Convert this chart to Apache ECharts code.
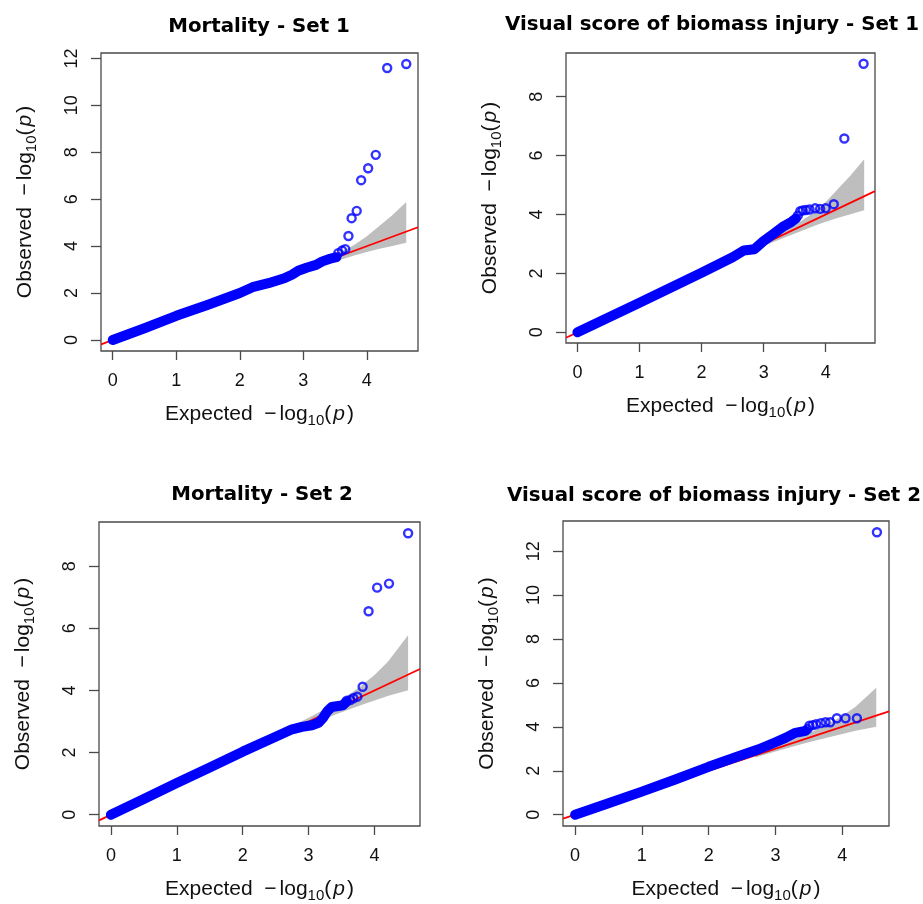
<!DOCTYPE html>
<html>
<head>
<meta charset="utf-8">
<title>QQ plots</title>
<script src="https://cdn.jsdelivr.net/npm/echarts@6/dist/echarts.min.js"></script>
<style>
	html, body { margin: 0; padding: 0; background: #fff; }
	#chart { width: 923px; height: 904px; }
</style>
</head>
<body>
<div id="chart"></div>
<script>
// panel titles
var titles = [
	'Mortality - Set 1',
	'Visual score of biomass injury - Set 1',
	'Mortality - Set 2',
	'Visual score of biomass injury - Set 2'
];

// tick labels
var xTicks = [0, 1, 2, 3, 4];
var yTicksMort1 = [0, 2, 4, 6, 8, 10, 12];
var yTicksVis1 = [0, 2, 4, 6, 8];
var yTicksMort2 = [0, 2, 4, 6, 8];
var yTicksVis2 = [0, 2, 4, 6, 8, 10, 12];

// dense part of each qq cloud [expected, observed]
var mort1Band = [[0, 0], [0.5, 0.5], [1, 1.03], [1.5, 1.5], [2, 2.0], [2.2, 2.25], [2.45, 2.42], [2.7, 2.63], [2.82, 2.78], [2.92, 2.95], [3.05, 3.08], [3.2, 3.2], [3.3, 3.35], [3.42, 3.46], [3.52, 3.53]];
var vis1Band = [[0, 0], [0.5, 0.5], [1, 1.0], [1.5, 1.51], [2, 2.02], [2.5, 2.55], [2.68, 2.78], [2.85, 2.82], [3.0, 3.1], [3.15, 3.33], [3.3, 3.57], [3.45, 3.75], [3.52, 3.86]];
var mort2Band = [[0, 0], [0.5, 0.51], [1, 1.02], [1.5, 1.52], [2, 2.03], [2.5, 2.51], [2.75, 2.75], [2.9, 2.83], [3.05, 2.88], [3.15, 2.96], [3.22, 3.12], [3.28, 3.32], [3.35, 3.47], [3.45, 3.5], [3.52, 3.52], [3.57, 3.63]];
var vis2Band = [[0, 0], [0.5, 0.52], [1, 1.05], [1.5, 1.6], [2, 2.18], [2.5, 2.72], [2.75, 2.98], [3.0, 3.3], [3.15, 3.5], [3.3, 3.73], [3.45, 3.82]];

// the separate points at the top end
var mort1Tail = [[3.55, 3.7], [3.61, 3.81], [3.66, 3.87], [3.71, 4.43], [3.76, 5.19], [3.84, 5.5], [3.91, 6.81], [4.02, 7.32], [4.14, 7.89], [4.32, 11.59], [4.62, 11.76]];
var vis1Tail = [[3.55, 3.96], [3.59, 4.11], [3.63, 4.14], [3.68, 4.15], [3.74, 4.17], [3.83, 4.21], [3.91, 4.19], [4.0, 4.21], [4.13, 4.35], [4.3, 6.58], [4.61, 9.12]];
var mort2Tail = [[3.58, 3.67], [3.63, 3.69], [3.68, 3.75], [3.74, 3.8], [3.82, 4.12], [3.91, 6.55], [4.04, 7.31], [4.22, 7.44], [4.51, 9.06]];
var vis2Tail = [[3.48, 3.9], [3.51, 4.05], [3.56, 4.08], [3.61, 4.12], [3.68, 4.17], [3.75, 4.21], [3.82, 4.21], [3.92, 4.39], [4.05, 4.39], [4.22, 4.39], [4.52, 12.86]];

// grey confidence band
var ci1X = [2.8, 3.0, 3.2, 3.4, 3.6, 3.8, 4.0, 4.2, 4.4, 4.62];
var ci1Upper = [2.86, 3.08, 3.3, 3.53, 3.77, 4.05, 4.42, 4.87, 5.32, 5.88];
var ci1Lower = [2.74, 2.93, 3.1, 3.27, 3.43, 3.6, 3.75, 3.89, 4.01, 4.14];
var ci2X = [2.7, 3.0, 3.2, 3.4, 3.6, 3.8, 4.0, 4.2, 4.51];
var ci2Upper = [2.8, 3.12, 3.35, 3.58, 3.85, 4.15, 4.5, 4.92, 5.78];
var ci2Lower = [2.6, 2.88, 3.05, 3.22, 3.38, 3.53, 3.68, 3.82, 4.01];

var panels = [
	{ band: mort1Band, tail: mort1Tail, ciX: ci1X, ciUp: ci1Upper, ciLo: ci1Lower, yTicks: yTicksMort1,
		grid: { left: 101, top: 53, width: 317, height: 298 }, title: [259, 27] },
	{ band: vis1Band, tail: vis1Tail, ciX: ci1X, ciUp: ci1Upper, ciLo: ci1Lower, yTicks: yTicksVis1,
		grid: { left: 566, top: 53, width: 309, height: 290 }, title: [712, 25] },
	{ band: mort2Band, tail: mort2Tail, ciX: ci2X, ciUp: ci2Upper, ciLo: ci2Lower, yTicks: yTicksMort2,
		grid: { left: 99, top: 522, width: 321, height: 304 }, title: [262, 495] },
	{ band: vis2Band, tail: vis2Tail, ciX: ci2X, ciUp: ci2Upper, ciLo: ci2Lower, yTicks: yTicksVis2,
		grid: { left: 563, top: 521, width: 326, height: 306 }, title: [714, 496] }
];

// like R: data range plus 4% each side
function rRange(pts, k) {
	var lo = Infinity, hi = -Infinity;
	pts.forEach(function (p) {
		lo = Math.min(lo, p[k]);
		hi = Math.max(hi, p[k]);
	});
	var d = (hi - lo) * 0.04;
	return [lo - d, hi + d];
}

var mathRich = {
	n: { fontSize: 21, fontFamily: 'Liberation Sans', color: '#111', lineHeight: 28 },
	m: { fontSize: 21, fontFamily: 'Liberation Sans', color: '#111', lineHeight: 28, padding: [0, 3, 0, 0] },
	s: { fontSize: 15, fontFamily: 'Liberation Sans', color: '#111', lineHeight: 17, verticalAlign: 'bottom' },
	i: { fontSize: 21, fontFamily: 'Liberation Sans', fontStyle: 'italic', color: '#111', lineHeight: 28, padding: [0, 2, 0, 2] }
};
function mathName(word) {
	return '{n|' + word + '  }{m|\u2212}{n|log}{s|10}{n|(}{i|p}{n|)}';
}

var grids = [], xAxes = [], yAxes = [], series = [], graphics = [];

panels.forEach(function (p, i) {
	var all = p.band.concat(p.tail);
	var xr = rRange(all, 0);
	var yr = rRange(all, 1);

	grids.push({
		left: p.grid.left, top: p.grid.top, width: p.grid.width, height: p.grid.height,
		show: true, borderColor: '#4a4a4a', borderWidth: 1.3, backgroundColor: '#fff'
	});

	xAxes.push({
		type: 'value', gridIndex: i, min: xr[0], max: xr[1],
		axisLine: { show: false, onZero: false },
		splitLine: { show: false },
		axisTick: { customValues: xTicks, length: 9, lineStyle: { color: '#4a4a4a', width: 1.3 } },
		axisLabel: { customValues: xTicks, margin: 21, fontSize: 18, color: '#111', fontFamily: 'Liberation Sans' },
		name: mathName('Expected'), nameLocation: 'middle', nameGap: 49,
		nameTextStyle: { rich: mathRich }
	});

	yAxes.push({
		type: 'value', gridIndex: i, min: yr[0], max: yr[1],
		axisLine: { show: false, onZero: false },
		splitLine: { show: false },
		axisTick: { customValues: p.yTicks, length: 10, lineStyle: { color: '#4a4a4a', width: 1.3 } },
		axisLabel: { customValues: p.yTicks, rotate: 90, margin: 20, fontSize: 18, color: '#111', fontFamily: 'Liberation Sans' },
		name: mathName('Observed'), nameLocation: 'middle', nameRotate: 90, nameGap: 62,
		nameTextStyle: { rich: mathRich }
	});

	// grey band as one polygon: upper edge then lower edge back
	var poly = [];
	p.ciX.forEach(function (x, k) { poly.push([x, p.ciUp[k]]); });
	for (var k = p.ciX.length - 1; k >= 0; k--) poly.push([p.ciX[k], p.ciLo[k]]);

	series.push({
		type: 'custom', xAxisIndex: i, yAxisIndex: i, silent: true, z: 1,
		data: poly,
		renderItem: function (params, api) {
			if (params.dataIndex !== 0) return null;
			var pts = poly.map(function (d) { return api.coord(d); });
			return { type: 'polygon', shape: { points: pts }, style: { fill: '#bebebe' } };
		}
	});

	series.push({
		type: 'line', xAxisIndex: i, yAxisIndex: i, silent: true, z: 2,
		data: [[xr[0], xr[0]], [xr[1], xr[1]]],
		showSymbol: false,
		lineStyle: { color: '#ff0000', width: 1.8 }
	});

	series.push({
		type: 'line', xAxisIndex: i, yAxisIndex: i, silent: true, z: 3,
		data: p.band,
		showSymbol: false,
		lineStyle: { color: '#0000ff', width: 10, cap: 'round', join: 'round' }
	});

	series.push({
		type: 'scatter', xAxisIndex: i, yAxisIndex: i, silent: true, z: 4,
		data: p.tail,
		symbol: 'circle', symbolSize: 8,
		itemStyle: { color: 'rgba(0,0,0,0)', borderColor: '#0000ff', borderWidth: 2.4 }
	});

	graphics.push({
		type: 'text', x: p.title[0], y: p.title[1],
		style: {
			text: titles[i], fontSize: 19.8, fontWeight: 'bold', fontFamily: 'DejaVu Sans', fill: '#000',
			textAlign: 'center', textVerticalAlign: 'middle', align: 'center', verticalAlign: 'middle'
		}
	});
});

var myChart = echarts.init(document.getElementById('chart'));
myChart.setOption({
	animation: false,
	backgroundColor: '#fff',
	grid: grids,
	xAxis: xAxes,
	yAxis: yAxes,
	series: series,
	graphic: graphics
});
</script>
</body>
</html>
